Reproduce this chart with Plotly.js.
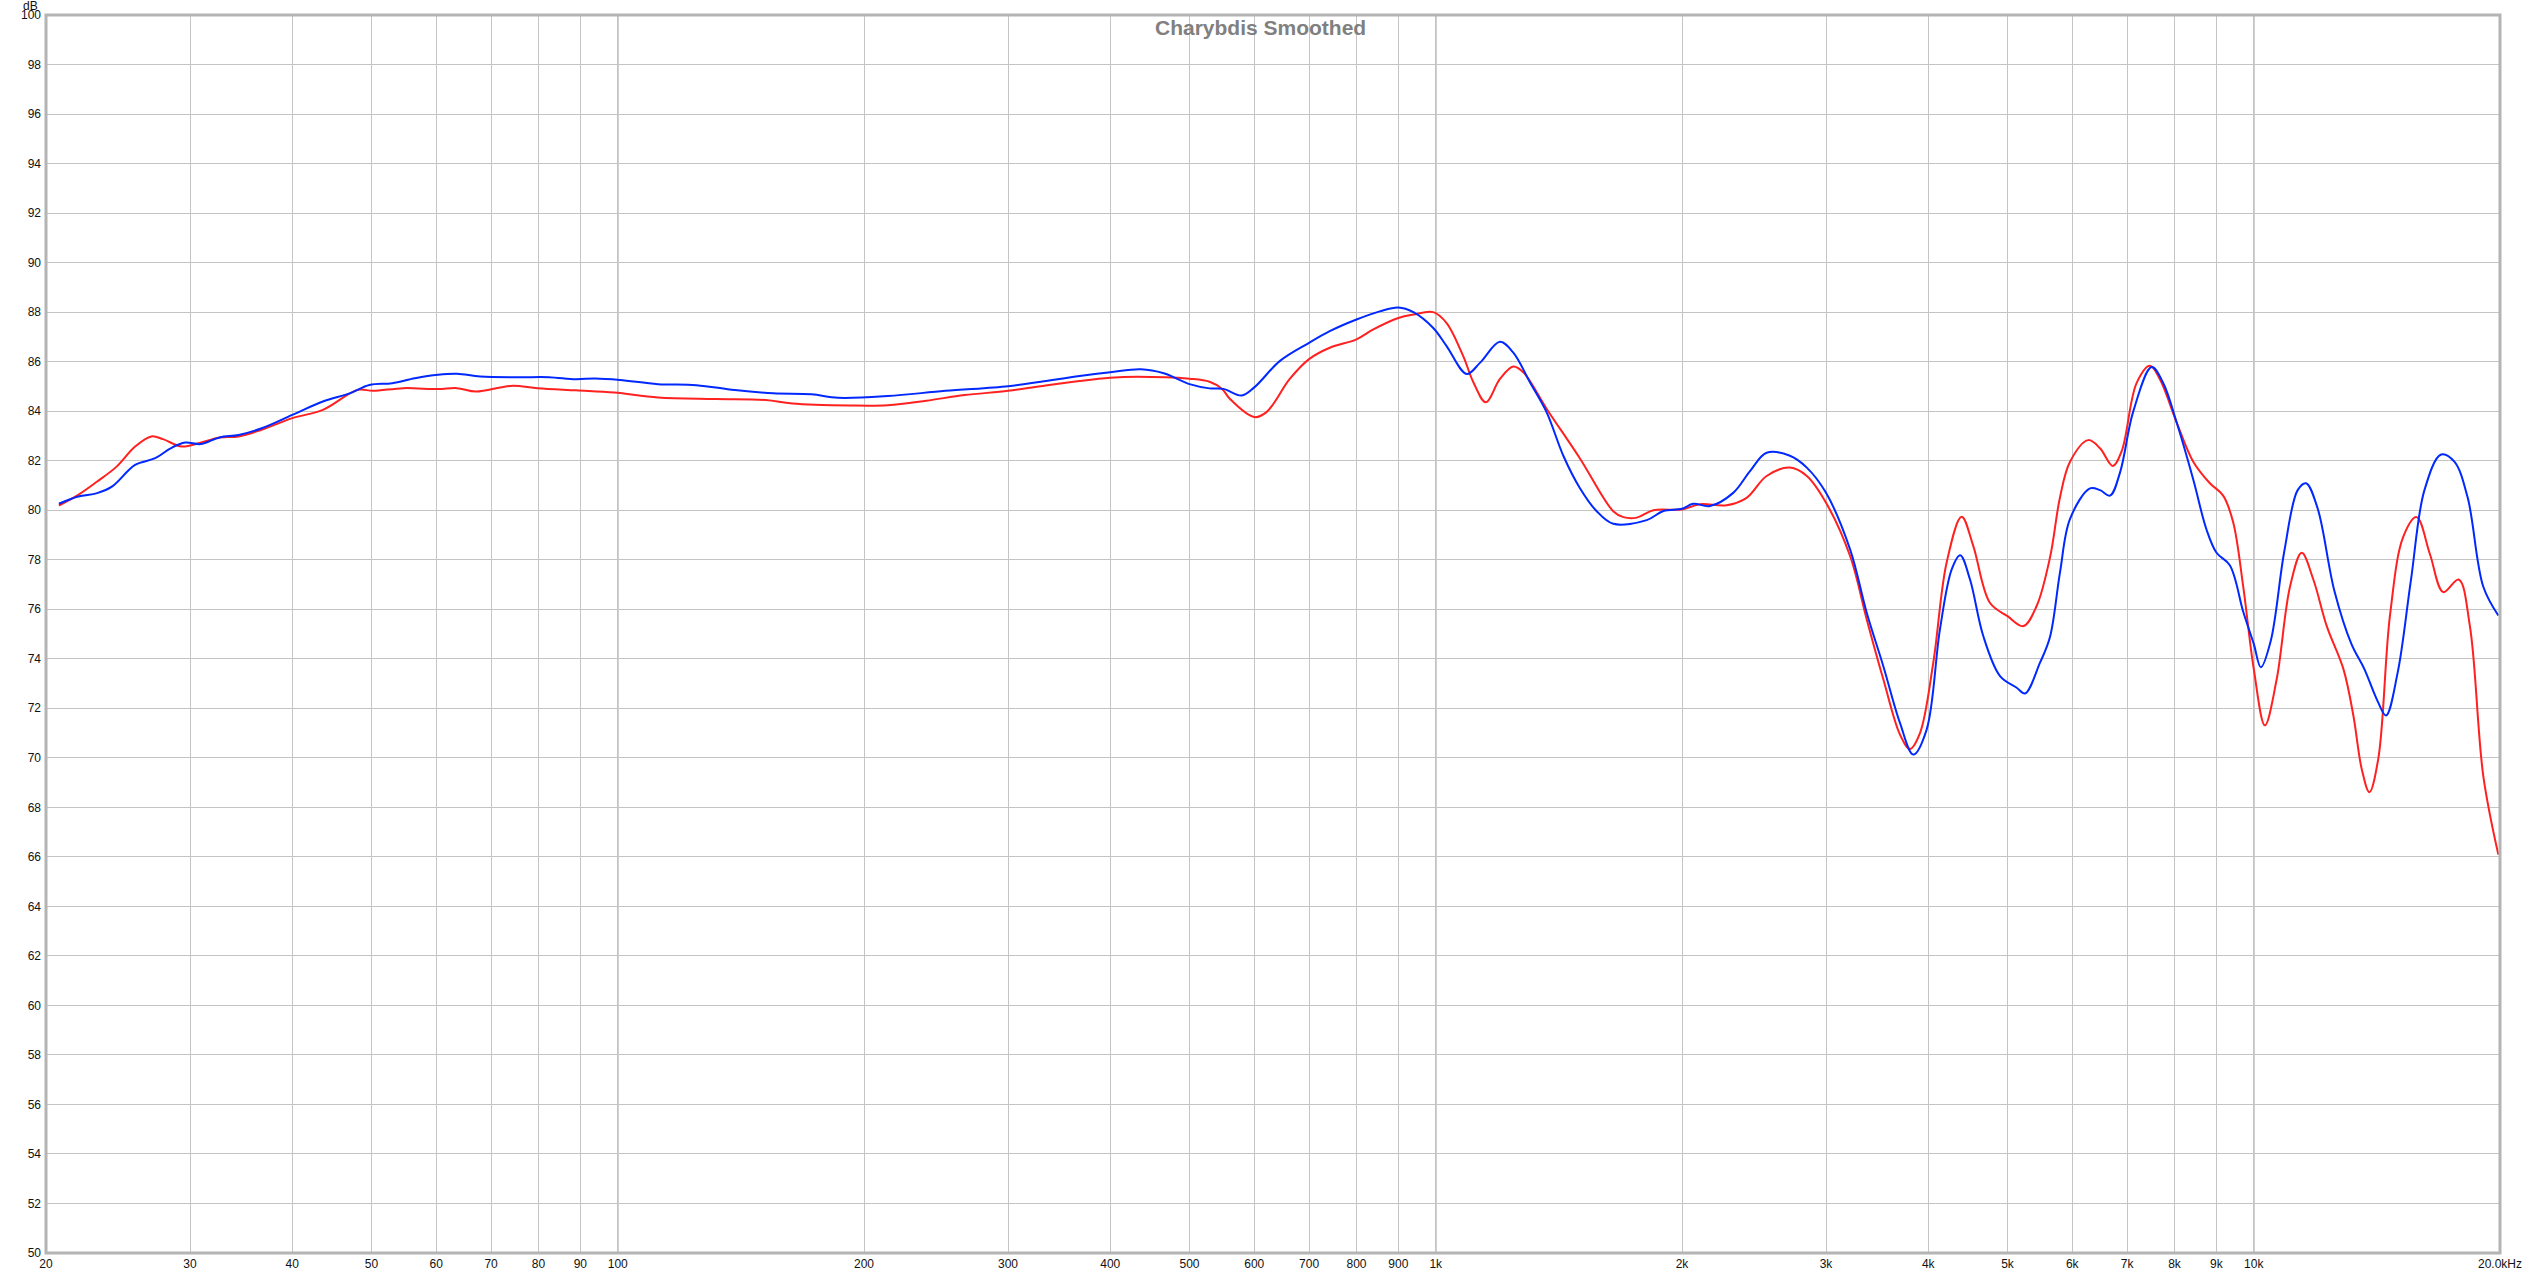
<!DOCTYPE html>
<html>
<head>
<meta charset="utf-8">
<script src="https://cdn.plot.ly/plotly-3.0.1.min.js"></script>
<style>
html,body{margin:0;padding:0;background:#fff;}
#chart{width:2522px;height:1275px;}
</style>
</head>
<body>
<div id="chart"></div>
<script>
// Red curve
const freqRed = [20.74,21.9,23.1,24.4,25.7,26.9,27.8,29.3,30.9,32.6,34.4,36.7,40,43.6,48.1,50.2,54.7,60.3,63.6,67.1,74,79.8,88.9,99,112,131.7,151.6,163.4,192,213.9,238.3,265.4,300,329,367,400,431,500,529,548,560,600,621,663,700,742,800,839,900,939,993,1031,1081,1112,1151,1198,1244,1280,1366,1500,1648,1696,1761,1845,2000,2104,2268,2399,2538,2710,2842,3000,3210,3364,3525,3694,3799,3908,4057,4212,4394,4541,4758,5000,5228,5427,5636,5796,5962,6276,6487,6723,6897,7190,7467,7681,8048,8434,8838,9175,9437,9708,10000,10318,10665,11074,11445,11826,12281,12869,13236,13551,13846,14201,14674,15235,15817,16424,17051,17800,18375,19082,19907];
const dbRed = [80.19,80.62,81.16,81.76,82.57,82.98,82.87,82.57,82.73,82.94,82.98,83.25,83.72,84.05,84.86,84.82,84.93,84.89,84.93,84.79,85.02,84.93,84.84,84.75,84.55,84.49,84.45,84.31,84.23,84.24,84.42,84.65,84.82,85.01,85.22,85.35,85.39,85.31,85.19,84.9,84.5,83.76,83.96,85.3,86.1,86.56,86.9,87.3,87.76,87.9,88.0,87.56,86.2,85.16,84.36,85.3,85.8,85.56,84.1,82.1,79.96,79.72,79.7,80.0,80.03,80.24,80.2,80.5,81.38,81.72,81.38,80.3,78.15,75.59,73.17,70.94,70.36,71.0,73.84,77.88,79.74,78.55,76.26,75.72,75.32,76.13,78.1,80.52,81.96,82.83,82.5,81.79,82.4,85.13,85.83,85.28,83.55,81.96,81.09,80.59,79.51,76.91,73.59,71.31,73.16,76.91,78.28,77.2,75.32,73.59,71.71,69.55,68.61,69.98,75.75,78.93,79.72,78.21,76.69,77.2,75.32,69.26,66.09];

// Blue curve
const freqBlue = [20.74,21.9,23.1,24.1,25.7,27.2,28.4,29.6,30.9,32.6,34.4,36.7,40,43.6,47.1,49.7,53,56.5,60.3,63.6,67.9,75.6,82.4,88.9,93.8,100.6,112,124.8,139,154.9,172.5,185.9,213.9,251.4,300,329,367,400,436,465,500,529,550,579,600,645,700,742,800,854,900,939,993,1031,1091,1133,1198,1244,1304,1366,1432,1500,1573,1648,1811,1898,2000,2064,2164,2310,2422,2538,2710,2842,3000,3210,3364,3525,3694,3835,3982,4134,4273,4376,4499,4670,4896,5131,5253,5479,5636,5796,5962,6306,6487,6673,6864,7122,7503,7752,8048,8434,8754,9005,9352,9708,10000,10202,10493,10899,11316,11585,11968,12544,13163,13649,14170,14509,14996,15568,16168,16946,17589,18257,19082,19907];
const dbBlue = [80.26,80.55,80.69,80.96,81.83,82.1,82.5,82.73,82.67,82.94,83.04,83.31,83.85,84.39,84.73,85.06,85.13,85.33,85.47,85.51,85.4,85.37,85.37,85.29,85.32,85.26,85.09,85.05,84.85,84.72,84.68,84.54,84.61,84.82,85.01,85.19,85.42,85.57,85.69,85.53,85.09,84.92,84.9,84.63,84.96,86.03,86.76,87.23,87.7,88.03,88.19,88.0,87.36,86.63,85.5,85.96,86.8,86.36,85.16,83.96,82.2,80.9,79.96,79.45,79.6,79.97,80.06,80.26,80.17,80.7,81.58,82.32,82.2,81.72,80.7,78.42,75.86,73.7,71.41,70.13,71.14,75.19,77.61,78.18,77.2,74.92,73.3,72.83,72.6,73.84,74.89,77.49,79.65,80.88,80.81,80.59,81.53,83.98,85.78,85.13,83.55,81.24,79.22,78.28,77.77,75.9,74.6,73.66,74.74,78.35,80.81,81.09,80.08,76.76,74.6,73.59,72.29,71.71,73.45,77.2,80.81,82.25,81.96,80.52,76.91,75.75];

const xTickVals = [20,30,40,50,60,70,80,90,100,200,300,400,500,600,700,800,900,1000,2000,3000,4000,5000,6000,7000,8000,9000,10000,20000];
const xTickText = ['20','30','40','50','60','70','80','90','100','200','300','400','500','600','700','800','900','1k','2k','3k','4k','5k','6k','7k','8k','9k','10k','20.0kHz'];
const yTickVals = [50,52,54,56,58,60,62,64,66,68,70,72,74,76,78,80,82,84,86,88,90,92,94,96,98,100];
const majorFreqs = [100,1000,10000];
const chartTitle = 'Charybdis Smoothed';

const traces = [
  {x: freqRed, y: dbRed, type: 'scatter', mode: 'lines', line: {color: 'rgb(255,32,32)', width: 2, shape: 'spline', smoothing: 1.0}, hoverinfo: 'skip'},
  {x: freqBlue, y: dbBlue, type: 'scatter', mode: 'lines', line: {color: 'rgb(0,40,255)', width: 2, shape: 'spline', smoothing: 1.0}, hoverinfo: 'skip'}
];

const shapes = majorFreqs.map(f => ({
  type: 'line', xref: 'x', yref: 'paper', x0: f, x1: f, y0: 0, y1: 1,
  line: {color: '#8a8a8a', width: 1.3}, layer: 'below'
}));
shapes.push({type: 'rect', xref: 'paper', yref: 'paper', x0: 0, x1: 1, y0: 0, y1: 1,
  line: {color: '#b4b4b4', width: 3}, layer: 'above'});

const layout = {
  width: 2522, height: 1275,
  margin: {l: 46, r: 22, t: 15, b: 22, pad: 0},
  paper_bgcolor: '#ffffff', plot_bgcolor: '#ffffff',
  showlegend: false,
  font: {family: 'Liberation Sans, Arial, sans-serif', size: 12, color: '#111'},
  xaxis: {
    type: 'log', range: [Math.log10(20), Math.log10(20000)],
    tickmode: 'array', tickvals: xTickVals, ticktext: xTickText,
    showgrid: true, gridcolor: '#c4c4c4', gridwidth: 1,
    zeroline: false, showline: false, ticks: '', ticklabelstandoff: 2,
    ticklabeloverflow: 'allow',
    tickfont: {size: 12, color: '#111'}
  },
  yaxis: {
    range: [50, 100], tickmode: 'array', tickvals: yTickVals,
    showgrid: true, gridcolor: '#c4c4c4', gridwidth: 1,
    zeroline: false, showline: false, ticks: '', ticklabelstandoff: 4,
    ticklabeloverflow: 'allow',
    tickfont: {size: 12, color: '#111'}
  },
  shapes: shapes,
  annotations: [
    {text: 'dB', xref: 'paper', yref: 'paper', x: 0, y: 1, xanchor: 'right', yanchor: 'bottom',
     xshift: -6, yshift: 0, showarrow: false, font: {size: 12, color: '#111'}},
    {text: '<b>' + chartTitle + '</b>', xref: 'paper', yref: 'paper', x: 0.4951, y: 1, xanchor: 'center', yanchor: 'top',
     yshift: 1, showarrow: false, font: {size: 21, color: '#808080', family: 'Liberation Sans, Arial, sans-serif'}}
  ]
};

Plotly.newPlot('chart', traces, layout, {staticPlot: true, displayModeBar: false});
</script>
</body>
</html>
